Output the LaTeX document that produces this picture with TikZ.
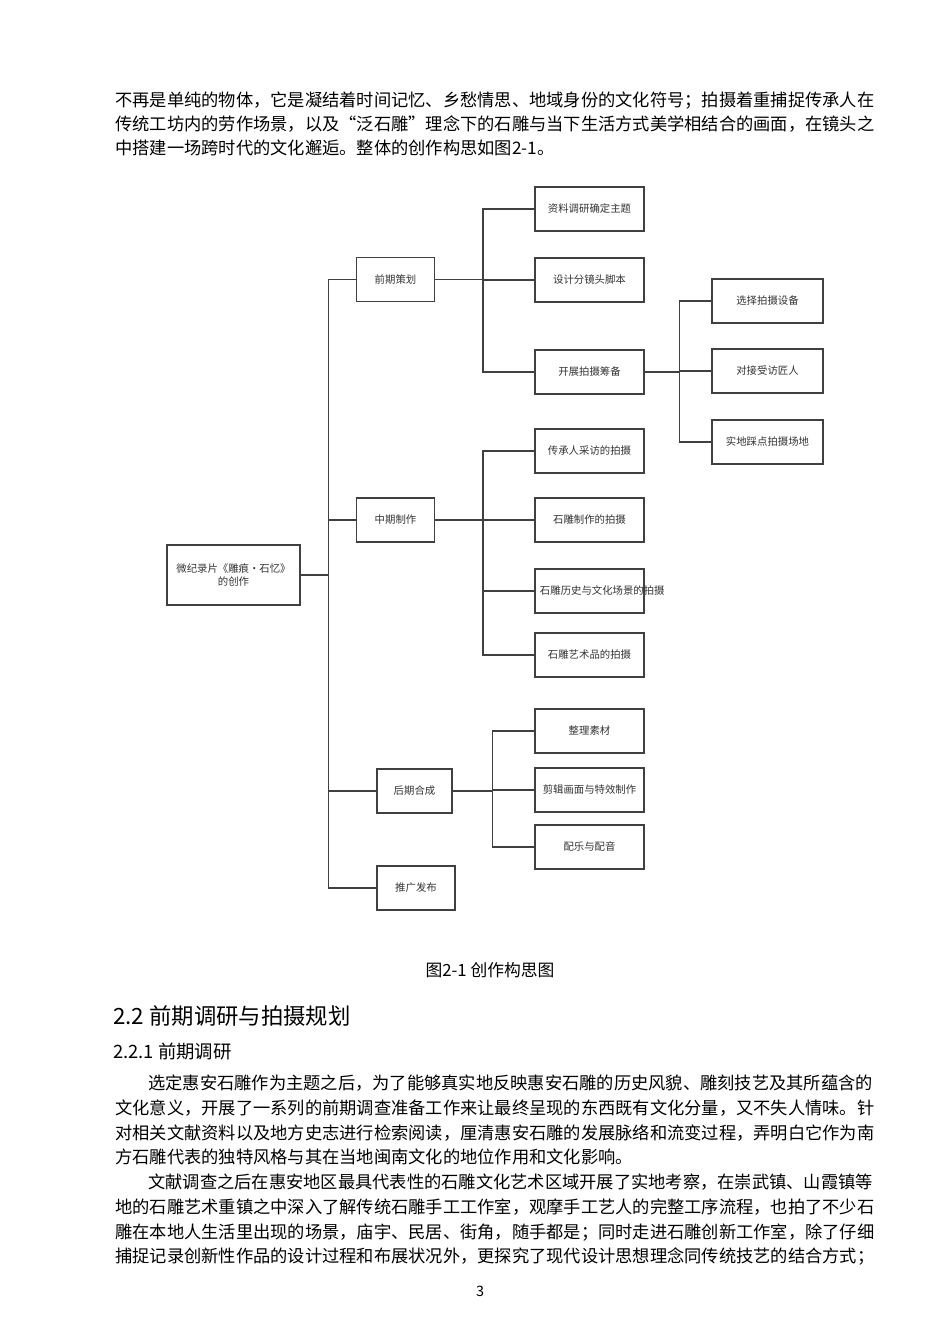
\documentclass[tikz,border=0pt]{standalone}
\usepackage{fontspec}
\setmainfont{Noto Sans CJK SC}
\usetikzlibrary{positioning}

\tikzset{
    box/.style={draw=black!75, line width=0.9pt, fill=white, text=black!80,
        font=\fontsize{6.5}{8}\selectfont, align=center,
        minimum height=27.5pt, inner sep=2pt},
    lone/.style={box, minimum width=49pt},
    ltwo/.style={box, minimum width=68.2pt, text width=62pt},
    lthree/.style={box, minimum width=69.5pt},
    link/.style={draw=black!75, line width=0.8pt},
    body/.style={anchor=base west, inner sep=0pt, font=\fontsize{10.8}{13}\selectfont}
}

\begin{document}
\begin{tikzpicture}[x=0.626pt, y=-0.626pt]

    \useasboundingbox[fill=white] (0,0) rectangle (950,1344);

    %% Text above the figure
    \node[body] (t1) at (115,106) {不再是单纯的物体，它是凝结着时间记忆、乡愁情思、地域身份的文化符号；拍摄着重捕捉传承人在};
    \node[body] (t2) at (115,130) {传统工坊内的劳作场景，以及“泛石雕”理念下的石雕与当下生活方式美学相结合的画面，在镜头之};
    \node[body] (t3) at (115,154) {中搭建一场跨时代的文化邂逅。整体的创作构思如图2-1。};

    %% Root
    \node[box, minimum width=83pt, minimum height=37.6pt] (root) at (233.5,575) {微纪录片《雕痕·石忆》\\的创作};

    %% First level
    \node[lone] (plan)  at (395.5,279.5) {前期策划};
    \node[lone] (mid)   at (395.5,520)   {中期制作};
    \node[lone, minimum width=47pt] (post)  at (414.5,791) {后期合成};
    \node[lone] (promo) at (416,888)     {推广发布};

    % Planning
    \node[ltwo] (topic)  at (589.5,209) {资料调研确定主题};
    \node[ltwo] (script) at (589.5,280) {设计分镜头脚本};
    \node[ltwo] (prep)   at (589.5,372) {开展拍摄筹备};

    \node[lthree] (gear)  at (767.5,301) {选择拍摄设备};
    \node[lthree] (crafts) at (767.5,371) {对接受访匠人};
    \node[lthree] (site)  at (767.5,442) {实地踩点拍摄场地};

    % Production
    \node[ltwo] (inter)   at (589.5,451) {传承人采访的拍摄};
    \node[ltwo] (carve)   at (589.5,520) {石雕制作的拍摄};
    \node[ltwo] (history) at (589.5,591) {石雕历史与文化场景的拍摄};
    \node[ltwo] (works)   at (589.5,655) {石雕艺术品的拍摄};

    % Post production
    \node[ltwo] (sort)  at (589.5,731) {整理素材};
    \node[ltwo] (edit)  at (589.5,790) {剪辑画面与特效制作};
    \node[ltwo] (music) at (589.5,847) {配乐与配音};

    %% Connectors
    \foreach \child in {plan, mid, post, promo}
        \draw[link] (root.east) -- ++(28,0) |- (\child.west);
    \foreach \child in {topic, script, prep}
        \draw[link] (plan.east) -- ++(47.5,0) |- (\child.west);
    \foreach \child in {gear, crafts, site}
        \draw[link] (prep.east) -- ++(34.5,0) |- (\child.west);
    \foreach \child in {inter, carve, history, works}
        \draw[link] (mid.east) -- ++(47.5,0) |- (\child.west);
    \foreach \child in {sort, edit, music}
        \draw[link] (post.east) -- ++(40,0) |- (\child.west);

    % Caption
    \node[font=\fontsize{10.5}{12}\selectfont, inner sep=0pt] (cap) at (490,970) {图2-1 创作构思图};

    %% Section text
    \node[body, font=\fontsize{14}{16}\selectfont] (h1) at (113,1024) {2.2 前期调研与拍摄规划};
    \node[body, font=\fontsize{11.5}{14}\selectfont] (h2) at (113,1058) {2.2.1 前期调研};

    \node[body] (p1) at (148,1089) {选定惠安石雕作为主题之后，为了能够真实地反映惠安石雕的历史风貌、雕刻技艺及其所蕴含的};
    \node[body] (p2) at (115,1114) {文化意义，开展了一系列的前期调查准备工作来让最终呈现的东西既有文化分量，又不失人情味。针};
    \node[body] (p3) at (115,1139) {对相关文献资料以及地方史志进行检索阅读，厘清惠安石雕的发展脉络和流变过程，弄明白它作为南};
    \node[body] (p4) at (115,1163) {方石雕代表的独特风格与其在当地闽南文化的地位作用和文化影响。};
    \node[body] (p5) at (148,1188) {文献调查之后在惠安地区最具代表性的石雕文化艺术区域开展了实地考察，在崇武镇、山霞镇等};
    \node[body] (p6) at (115,1213) {地的石雕艺术重镇之中深入了解传统石雕手工工作室，观摩手工艺人的完整工序流程，也拍了不少石};
    \node[body] (p7) at (115,1238) {雕在本地人生活里出现的场景，庙宇、民居、街角，随手都是；同时走进石雕创新工作室，除了仔细};
    \node[body] (p8) at (115,1262) {捕捉记录创新性作品的设计过程和布展状况外，更探究了现代设计思想理念同传统技艺的结合方式；};

    % Page number
    \node[font=\fontsize{9}{10}\selectfont, inner sep=0pt] (page) at (480,1291) {3};

\end{tikzpicture}
\end{document}
